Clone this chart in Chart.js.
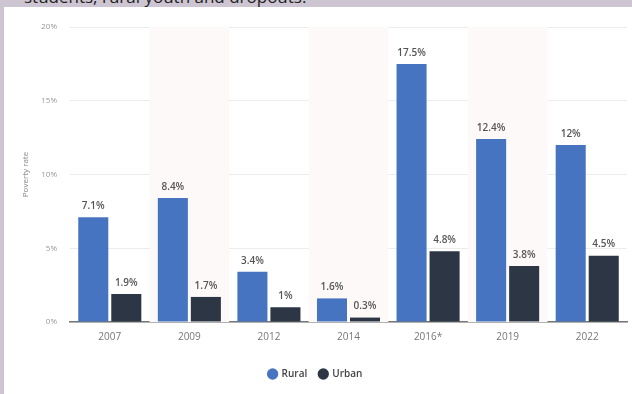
<!DOCTYPE html>
<html>
<head>
<meta charset="utf-8">
<script src="https://cdn.jsdelivr.net/npm/chart.js@4.4.1/dist/chart.umd.min.js"></script>
<style>
    body {
        margin: 0;
        width: 632px;
        height: 394px;
        overflow: hidden;
        background: #cdc5d1;
        position: relative;
        font-family: 'Open Sans', sans-serif;
    }
    #heading {
        position: absolute;
        left: 24px;
        top: -12px;
        font-size: 17px;
        line-height: 17px;
        color: #222;
        white-space: nowrap;
    }
    #card {
        position: absolute;
        left: 4px;
        top: 7px;
        width: 628px;
        height: 387px;
        background: #fff;
    }
</style>
</head>
<body>
<div id="heading">students, rural youth and dropouts.</div>
<div id="card"><canvas id="povertyChart" width="628" height="387"></canvas></div>

<script>
const years = ['2007', '2009', '2012', '2014', '2016*', '2019', '2022'];
const rural = [7.1, 8.4, 3.4, 1.6, 17.5, 12.4, 12];
const urban = [1.9, 1.7, 1, 0.3, 4.8, 3.8, 4.5];
const yTicks = [0, 5, 10, 15, 20];

// light stripes behind every other year
const bandPlugin = {
    id: 'bands',
    beforeDatasetsDraw(chart) {
        const { ctx, chartArea, scales } = chart;
        const step = scales.x.width / years.length;
        ctx.save();
        ctx.fillStyle = '#fdf9f9';
        years.forEach((y, i) => {
            if (i % 2 === 1) {
                const cx = scales.x.getPixelForValue(i);
                ctx.fillRect(cx - step / 2, chartArea.top, step, chartArea.bottom - chartArea.top);
            }
        });
        ctx.restore();
    }
};

// value labels above the bars
const valueLabels = {
    id: 'valueLabels',
    afterDatasetsDraw(chart) {
        const ctx = chart.ctx;
        ctx.save();
        ctx.font = '600 10px "Open Sans"';
        ctx.fillStyle = '#555';
        ctx.textAlign = 'center';
        ctx.textBaseline = 'middle';
        chart.data.datasets.forEach((ds, di) => {
            chart.getDatasetMeta(di).data.forEach((bar, i) => {
                ctx.fillText(ds.data[i] + '%', bar.x, bar.y - 11);
            });
        });
        ctx.restore();
    }
};

new Chart(document.getElementById('povertyChart'), {
    type: 'bar',
    data: {
        labels: years,
        datasets: [
            { label: 'Rural', data: rural, backgroundColor: '#4674c1' },
            { label: 'Urban', data: urban, backgroundColor: '#2c3645' }
        ]
    },
    options: {
        responsive: false,
        animation: false,
        categoryPercentage: 0.83,
        barPercentage: 0.91,
        layout: { padding: { top: 20, right: 5, bottom: 5, left: 0 } },
        plugins: {
            tooltip: { enabled: false },
            legend: {
                position: 'bottom',
                labels: {
                    usePointStyle: true,
                    pointStyle: 'circle',
                    boxWidth: 8,
                    boxHeight: 8,
                    padding: 12,
                    color: '#444',
                    font: { family: 'Open Sans', size: 10, weight: '600' }
                }
            }
        },
        scales: {
            x: {
                grid: { display: false, drawTicks: false },
                border: { display: true, color: '#777', width: 1.5 },
                ticks: { color: '#777', padding: 9, font: { family: 'Open Sans', size: 10 } },
                afterFit(scale) { scale.height = 35; }
            },
            y: {
                min: 0,
                max: 20,
                afterBuildTicks(scale) { scale.ticks = yTicks.map(v => ({ value: v })); },
                grid: { color: '#ececec', drawTicks: false },
                border: { display: false },
                ticks: {
                    color: '#999',
                    padding: 13,
                    font: { family: 'Open Sans', size: 8 },
                    callback: v => v + '%'
                },
                title: {
                    display: true,
                    text: 'Poverty rate',
                    color: '#888',
                    padding: { top: 17 },
                    font: { family: 'Open Sans', size: 8 }
                },
                afterFit(scale) { scale.width = 66; }
            }
        }
    },
    plugins: [bandPlugin, valueLabels]
});
</script>
</body>
</html>
